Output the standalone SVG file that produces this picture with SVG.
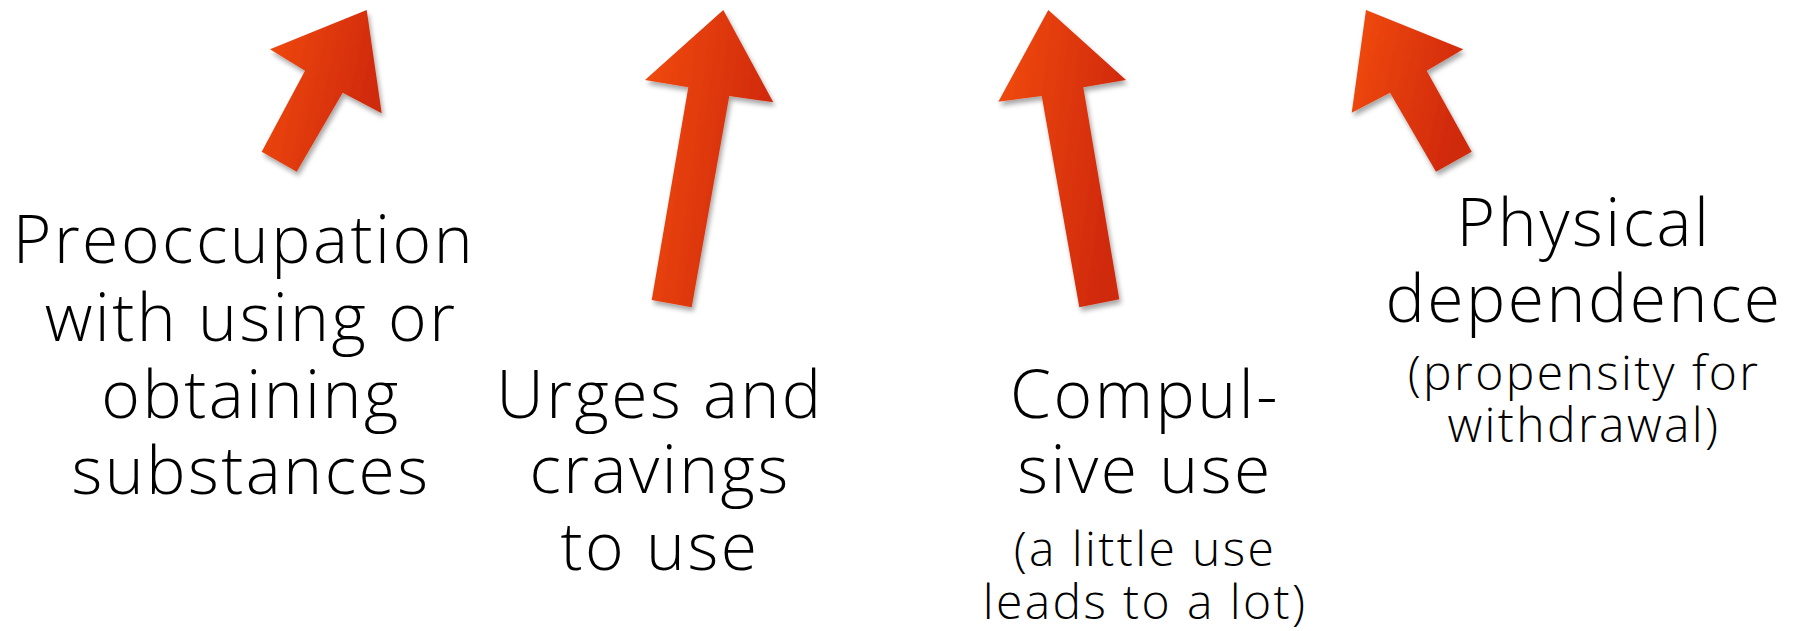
<svg xmlns="http://www.w3.org/2000/svg" width="1809" height="631" viewBox="0 0 1809 631">
<defs>
<linearGradient id="g" x1="0" y1="0" x2="1" y2="0.3">
<stop offset="0" stop-color="#F24C12"/>
<stop offset="1" stop-color="#D0290A"/>
</linearGradient>
<filter id="sh" x="-20%" y="-20%" width="140%" height="140%">
<feDropShadow dx="2" dy="4" stdDeviation="2.5" flood-color="#000" flood-opacity="0.35"/>
</filter>
<style>
.arrow{fill:url(#g);filter:url(#sh);}
.big{font-family:"Open Sans","Noto Sans",sans-serif;font-weight:300;font-size:66px;letter-spacing:2.5px;fill:#000;text-anchor:middle;}
.small{font-family:"Open Sans","Noto Sans",sans-serif;font-weight:300;font-size:48px;letter-spacing:2.4px;fill:#000;text-anchor:middle;}
</style>
</defs>
<rect width="1809" height="631" fill="#fff"/>
<g id="connectors">
<polygon class="arrow" points="366.7,10 381.7,113.3 342.7,92.7 296.7,171.7 261.7,151.7 305,70.7 270,49.3"/>
<polygon class="arrow" points="723.3,10 773.3,102.3 729.3,96 691.7,307.3 651.7,300 688.3,87.3 645,80"/>
<polygon class="arrow" points="1048.3,10 1126,80 1083.3,87.3 1119.3,299.3 1079.3,307.3 1041.7,96 998.3,101.7"/>
<polygon class="arrow" points="1366,10 1463.3,49.3 1426.7,70.7 1471.7,151.7 1436,171.7 1390,92.7 1351.7,112.7"/>
</g>
<g id="node1">
<text class="big" x="244" y="263">Preoccupation</text>
<text class="big" x="251" y="341">with using or</text>
<text class="big" x="251" y="418">obtaining</text>
<text class="big" x="251" y="494">substances</text>
</g>
<g id="node2">
<text class="big" x="660" y="418">Urges and</text>
<text class="big" x="660" y="493">cravings</text>
<text class="big" x="660" y="570">to use</text>
</g>
<g id="node3">
<text class="big" x="1145" y="418">Compul-</text>
<text class="big" x="1145" y="493">sive use</text>
<text class="small" x="1145" y="566">(a little use</text>
<text class="small" x="1145" y="619">leads to a lot)</text>
</g>
<g id="node4">
<text class="big" x="1584" y="246">Physical</text>
<text class="big" x="1584" y="322">dependence</text>
<text class="small" x="1584" y="390">(propensity for</text>
<text class="small" x="1584" y="442">withdrawal)</text>
</g>
</svg>
